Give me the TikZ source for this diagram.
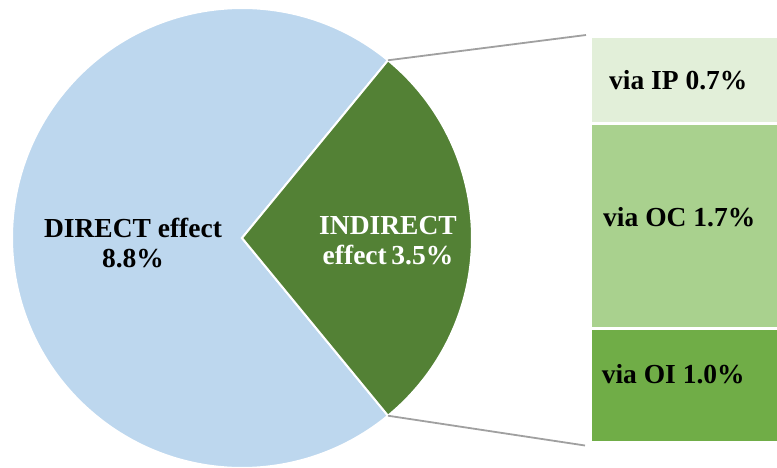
\documentclass[tikz,border=0pt]{standalone}
\usepackage{fontspec}
\setmainfont{Liberation Serif}
\usepackage{xcolor}
\usetikzlibrary{positioning,calc}
\definecolor{pieblue}{HTML}{BDD7EE}
\definecolor{piegreen}{HTML}{538135}
\definecolor{ipgreen}{HTML}{E2EFD9}
\definecolor{ocgreen}{HTML}{A9D18E}
\definecolor{oigreen}{HTML}{70AD47}
\definecolor{linkgray}{HTML}{A0A0A0}

\begin{document}
\begin{tikzpicture}[x=1pt, y=1pt, every node/.style={font=\fontsize{27.5}{30}\selectfont\bfseries},
  slice/.style={draw=white, line width=2pt},
  bar/.style={draw=white, line width=2.5pt, minimum width=188, anchor=north west, inner sep=0pt},
  link/.style={draw=linkgray, line width=1.8pt}]
  \useasboundingbox (0,0) rectangle (777,467);
  \coordinate (c) at (242,229);
  \coordinate (top) at ($(c)+(50.6:230)$);
  \coordinate (bot) at ($(c)+(-50.6:230)$);
  \fill[pieblue, slice] (c) -- (top) arc[start angle=50.6, end angle=309.4, radius=230] -- cycle;
  \fill[piegreen, slice] (c) -- (bot) arc[start angle=-50.6, end angle=50.6, radius=230] -- cycle;
  \node (direct) [align=center] at (133,224) {DIRECT effect\\8.8\%};
  \node (indirect) [align=center, text=white] at (388,226) {INDIRECT\\effect\,3.5\%};
  \node (ip) [bar, fill=ipgreen, minimum height=86] at (589,431) {};
  \node (oc) [bar, fill=ocgreen, minimum height=204] at (589,344) {};
  \node (oi) [bar, fill=oigreen, minimum height=114] at (589,140) {};
  \node at ($(ip.center)+(-6,0)$) {via IP 0.7\%};
  \node at ($(oc.center)+(-5,9)$) {via OC 1.7\%};
  \node at ($(oi.center)+(-11,11)$) {via OI 1.0\%};
  \draw[link] (top) -- ($(ip.north west)+(-3,1)$);
  \draw[link] (bot) -- ($(oi.south west)+(-4,-2)$);
\end{tikzpicture}
\end{document}
